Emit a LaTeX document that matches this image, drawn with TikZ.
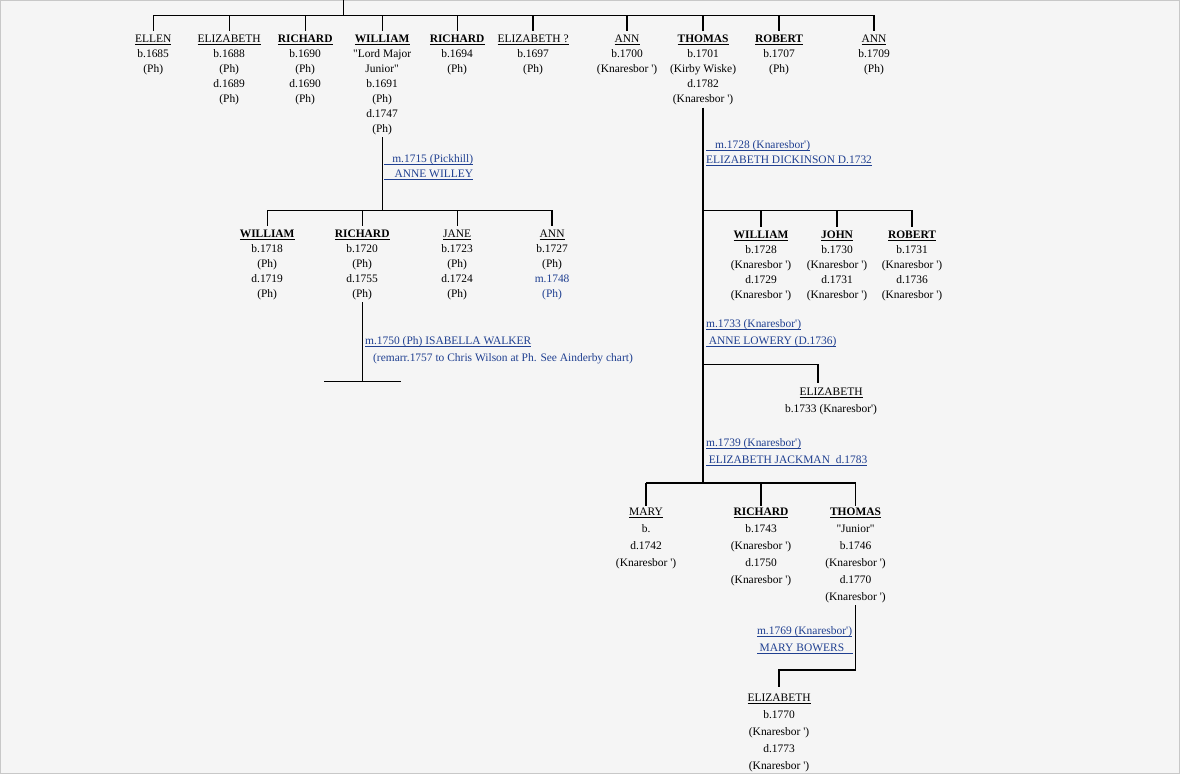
\documentclass[tikz,border=0pt]{standalone}
\usepackage{fontspec}
\setmainfont{Liberation Serif}
\definecolor{bgc}{RGB}{245,245,245}
\definecolor{brd}{RGB}{200,200,200}
\definecolor{mblue}{RGB}{32,64,145}
\newcommand\un[1]{\underline{\raisebox{0pt}[\height][0pt]{#1}}}
\newcommand\bn[1]{\un{\textbf{#1}}}
\newcommand\qq{\textquotedbl}
\newcommand\qs{\textquotesingle}
\tikzset{
  conn/.style={line width=0.95pt, black},
  person/.style={anchor=north, inner sep=0pt, outer sep=0pt, align=center, font=\fontsize{8.6}{11.25}\selectfont},
  personB/.style={person, font=\fontsize{8.6}{12.75}\selectfont},
  marr/.style={anchor=north west, inner sep=0pt, outer sep=0pt, align=left, text=mblue, font=\fontsize{8.6}{11.25}\selectfont},
  marrB/.style={marr, font=\fontsize{8.6}{12.75}\selectfont},
  drop/.style={conn, shorten >=3pt},
  up/.style={conn, shorten <=2pt},
}
\begin{document}
\begin{tikzpicture}[x=0.75pt,y=-0.75pt]
\fill[bgc] (0,0) rectangle (1180,774);
\draw[brd, line width=1.1pt] (0.5,0.5) rectangle (1179.3,773.3);
\useasboundingbox (0,0) rectangle (1180,774);

% ---------- top generation ----------
\node[person] (ellen)  at (153,34.6) {\un{ELLEN}\\b.1685\\(Ph)};
\node[person] (eliz1)  at (229,34.6) {\un{ELIZABETH}\\b.1688\\(Ph)\\d.1689\\(Ph)};
\node[person] (rich1)  at (305,34.6) {\bn{RICHARD}\\b.1690\\(Ph)\\d.1690\\(Ph)};
\node[person] (will)   at (382,34.6) {\bn{WILLIAM}\\\qq Lord Major\\Junior\qq\\b.1691\\(Ph)\\d.1747\\(Ph)};
\node[person] (rich2)  at (457,34.6) {\bn{RICHARD}\\b.1694\\(Ph)};
\node[person] (eliz2)  at (533,34.6) {\un{ELIZABETH ?}\\b.1697\\(Ph)};
\node[person] (ann1)   at (627,34.6) {\un{ANN}\\b.1700\\(Knaresbor \qs)};
\node[person] (thomas) at (703,34.6) {\bn{THOMAS}\\b.1701\\(Kirby Wiske)\\d.1782\\(Knaresbor \qs)};
\node[person] (rob1)   at (779,34.6) {\bn{ROBERT}\\b.1707\\(Ph)};
\node[person] (ann2)   at (874,34.6) {\un{ANN}\\b.1709\\(Ph)};

\coordinate (root) at (343,0);
\coordinate (topbar) at (343,15);
\draw[conn] (root) -- (topbar);
\draw[conn] (ellen.north |- topbar) -- (ann2.north |- topbar);
\foreach \n in {ellen,eliz1,rich1,will,rich2,eliz2,ann1,thomas,rob1,ann2}
  \draw[drop] (\n.north |- topbar) -- (\n.north);

% ---------- William's family ----------
\node[marr] (m1) at (384,154.1) {\un{\makebox[66.75pt][r]{m.1715 (Pickhill)}}\\\un{\makebox[66.75pt][r]{ANNE WILLEY}}};
\coordinate (wbar) at (382,210);
\node[person] (will2) at (267,229.6) {\bn{WILLIAM}\\b.1718\\(Ph)\\d.1719\\(Ph)};
\node[person] (rich3) at (362,229.6) {\bn{RICHARD}\\b.1720\\(Ph)\\d.1755\\(Ph)};
\node[person] (jane)  at (457,229.6) {\un{JANE}\\b.1723\\(Ph)\\d.1724\\(Ph)};
\node[person] (ann3)  at (552,229.6) {\un{ANN}\\b.1727\\(Ph)\\\textcolor{mblue}{m.1748}\\\textcolor{mblue}{(Ph)}};
\draw[up] (will.south) -- (will.south |- wbar);
\draw[conn] (will2.north |- wbar) -- (ann3.north |- wbar);
\foreach \n in {will2,rich3,jane,ann3}
  \draw[drop] (\n.north |- wbar) -- (\n.north);

% ---------- Richard's marriage ----------
\node[marrB] (m3) at (365,336.1) {\un{m.1750 (Ph) ISABELLA WALKER}\\\hspace*{6pt}(remarr.1757 to Chris Wilson at Ph. See Ainderby chart)};
\coordinate (rbar) at (362,381);
\coordinate (rbarL) at (324,381);
\coordinate (rbarR) at (401,381);
\draw[up] (rich3.south) -- (rich3.south |- rbar);
\draw[conn] (rbarL) -- (rbarR);

% ---------- Thomas's families ----------
\coordinate (tb1) at (703,210);
\coordinate (tb2) at (703,364);
\coordinate (tb3) at (703,483);
\draw[up] (thomas.south) -- (thomas.south |- tb3);

\node[marr] (m2) at (706,140.1) {\un{\hspace*{6.75pt}m.1728 (Knaresbor\qs)}\\\un{ELIZABETH DICKINSON D.1732}};
\node[person] (will3) at (761,230.4) {\bn{WILLIAM}\\b.1728\\(Knaresbor \qs)\\d.1729\\(Knaresbor \qs)};
\node[person] (john)  at (837,230.4) {\bn{JOHN}\\b.1730\\(Knaresbor \qs)\\d.1731\\(Knaresbor \qs)};
\node[person] (rob2)  at (912,230.4) {\bn{ROBERT}\\b.1731\\(Knaresbor \qs)\\d.1736\\(Knaresbor \qs)};
\draw[conn] (tb1) -- (rob2.north |- tb1);
\foreach \n in {will3,john,rob2}
  \draw[drop] (\n.north |- tb1) -- (\n.north);

\node[marrB] (m4) at (706,319.1) {\un{m.1733 (Knaresbor\qs)}\\\un{\hspace*{2pt}ANNE LOWERY (D.1736)}};
\node[personB] (eliz3) at (831,387.6) {\un{ELIZABETH}\\b.1733 (Knaresbor\qs)};
\coordinate (e3drop) at (818,364);
\draw[conn] (tb2) -- (e3drop);
\draw[conn, shorten >=3.9pt] (e3drop) -- (e3drop |- eliz3.north);

\node[marrB] (m5) at (706,438.1) {\un{m.1739 (Knaresbor\qs)}\\\un{\hspace*{2pt}ELIZABETH JACKMAN\ \ d.1783}};
\node[personB] (mary)    at (646,507.6) {\un{MARY}\\b.\\d.1742\\(Knaresbor \qs)};
\node[personB] (rich4)   at (761,507.6) {\bn{RICHARD}\\b.1743\\(Knaresbor \qs)\\d.1750\\(Knaresbor \qs)};
\node[personB] (thomas2) at (855.5,507.6) {\bn{THOMAS}\\\qq Junior\qq\\b.1746\\(Knaresbor \qs)\\d.1770\\(Knaresbor \qs)};
\draw[conn] (mary.north |- tb3) -- (thomas2.north |- tb3);
\foreach \n in {mary,rich4,thomas2}
  \draw[conn, shorten >=1.6pt] (\n.north |- tb3) -- (\n.north);

% ---------- Thomas junior ----------
\node[marrB] (m6) at (757,626.1) {\un{m.1769 (Knaresbor\qs)}\\\un{\hspace*{2pt}MARY BOWERS\hspace*{7pt}}};
\node[personB] (eliz4) at (779,693.4) {\un{ELIZABETH}\\b.1770\\(Knaresbor \qs)\\d.1773\\(Knaresbor \qs)};
\coordinate (ebar) at (855.5,670);
\draw[up, shorten >=4.6pt] (thomas2.south) -- (ebar) -- (eliz4.north |- ebar) -- (eliz4.north);
\end{tikzpicture}
\end{document}
